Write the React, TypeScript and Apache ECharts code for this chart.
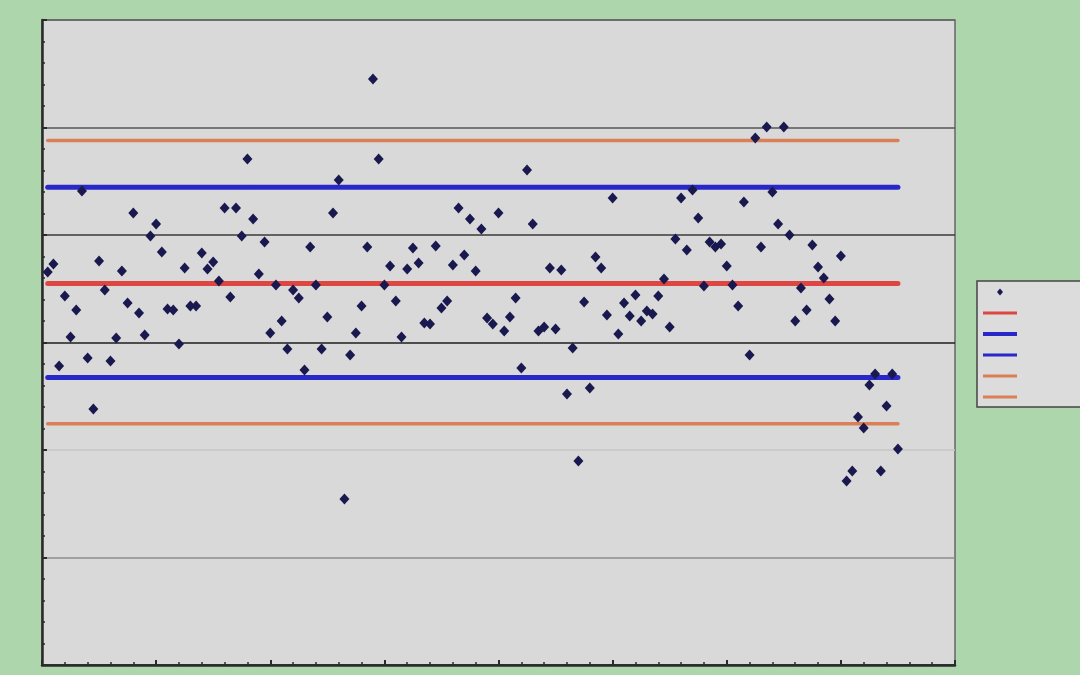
import React, { useEffect, useRef } from "react";
import * as echarts from "echarts";

// Observation values (index 1..150)
const observations: number[] = [
  36.56, 37.3, 27.81, 34.33, 30.51, 33.02, 44.09, 28.56, 23.81, 37.58,
  34.88, 28.28, 30.42, 36.65, 33.67, 42.05, 32.74, 30.7, 39.91, 41.02,
  38.42, 33.12, 33.02, 29.86, 36.93, 33.4, 33.4, 38.33, 36.84, 37.49,
  35.72, 42.51, 34.23, 42.51, 39.91, 47.07, 41.49, 36.37, 39.35, 30.88,
  35.35, 32.0, 29.4, 34.88, 34.14, 27.44, 38.88, 35.35, 29.4, 32.37,
  42.05, 45.12, 15.44, 28.84, 30.88, 33.4, 38.88, 54.51, 47.07, 35.35,
  37.12, 33.86, 30.51, 36.84, 38.79, 37.4, 31.81, 31.72, 38.98, 33.21,
  33.86, 37.21, 42.51, 38.14, 41.49, 36.65, 40.56, 32.28, 31.72, 42.05,
  31.07, 32.37, 34.14, 27.63, 46.05, 41.02, 31.07, 31.44, 36.93, 31.26,
  36.74, 25.21, 29.49, 18.98, 33.77, 25.77, 37.95, 36.93, 32.56, 43.44,
  30.79, 33.67, 32.47, 34.42, 32.0, 32.93, 32.65, 34.33, 35.91, 31.44,
  39.63, 43.44, 38.6, 44.19, 41.58, 35.26, 39.35, 38.88, 39.16, 37.12,
  35.35, 33.4, 43.07, 28.84, 49.02, 38.88, 50.05, 44.0, 41.02, 50.05,
  40.0, 32.0, 35.07, 33.02, 39.07, 37.02, 36.0, 34.05, 32.0, 38.05,
  17.12, 18.05, 23.07, 22.05, 26.05, 27.07, 18.05, 24.09, 27.07, 20.09,
];

// Control limits
const meanValue = 35.5;
const upper2 = 44.45;
const lower2 = 26.75;
const upper3 = 48.8;
const lower3 = 22.45;

const firstIndex = 1;
const lastIndex = 150;

const seriesNames = ["Data", "Mean", "UCL 2s", "LCL 2s", "UCL 3s", "LCL 3s"];

export default function App() {
  const ref = useRef<HTMLDivElement>(null);

  useEffect(() => {
    document.body.style.margin = "0";
    if (!ref.current) return;
    const chart = echarts.init(ref.current, undefined, { renderer: "svg" });

    const scatterData = observations.map((v, i) => [i + 1, v]);
    const hline = (v: number) => [
      [firstIndex, v],
      [lastIndex, v],
    ];

    const navy = "#19194f";
    const red = "#de4741";
    const blue = "#2828c8";
    const orange = "#db7f56";

    const lineSeries = (name: string, v: number, color: string, width: number) => ({
      name,
      type: "line",
      data: hline(v),
      symbol: "none",
      lineStyle: { color, width, cap: "round" },
      itemStyle: { color },
      z: 2,
    });

    // legend icons keep a 34x10 bounding box so every item has the same height
    const barIcon = (h: number) => {
      const t = (10 - h) / 2;
      return `path://M0,0 M34,10 M0,${t} L34,${t} L34,${t + h} L0,${t + h} Z`;
    };
    const diamondIcon = "path://M0,0 M34,10 M17,1.5 L20,5 L17,8.5 L14,5 Z";

    chart.setOption({
      animation: false,
      backgroundColor: "#aed6ac",
      grid: {
        left: 42,
        top: 20,
        right: 125,
        bottom: 10,
        show: true,
        backgroundColor: "#d9d9d9",
        borderColor: "#666",
        borderWidth: 1.5,
      },
      legend: {
        orient: "vertical",
        left: 977,
        top: 281,
        padding: [6, 150, 5, 6],
        itemWidth: 34,
        itemHeight: 10,
        itemGap: 11,
        symbolKeepAspect: true,
        backgroundColor: "#dcdcdc",
        borderColor: "#444",
        borderWidth: 1.5,
        borderRadius: 0,
        formatter: () => "",
        data: [
          { name: seriesNames[0], icon: diamondIcon, itemStyle: { color: navy } },
          { name: seriesNames[1], icon: barIcon(3), itemStyle: { color: red } },
          { name: seriesNames[2], icon: barIcon(4), itemStyle: { color: blue } },
          { name: seriesNames[3], icon: barIcon(3), itemStyle: { color: blue } },
          { name: seriesNames[4], icon: barIcon(3), itemStyle: { color: orange } },
          { name: seriesNames[5], icon: barIcon(3), itemStyle: { color: orange } },
        ],
      },
      xAxis: {
        type: "value",
        min: 0,
        max: 160,
        interval: 20,
        axisLine: { show: true, onZero: false, lineStyle: { color: "#2a2a2a", width: 2.5 } },
        axisTick: { show: true, inside: true, length: 5, lineStyle: { color: "#2a2a2a", width: 2 } },
        minorTick: { show: true, splitNumber: 5, length: 3, lineStyle: { color: "#2a2a2a", width: 1.5 } },
        axisLabel: { show: false },
        splitLine: { show: false },
      },
      yAxis: {
        type: "value",
        min: 0,
        max: 60,
        interval: 10,
        axisLine: { show: true, onZero: false, lineStyle: { color: "#2a2a2a", width: 2.5 } },
        axisTick: { show: true, inside: true, length: 5, lineStyle: { color: "#2a2a2a", width: 2 } },
        minorTick: { show: true, splitNumber: 5, length: 3, lineStyle: { color: "#2a2a2a", width: 1.5 } },
        axisLabel: { show: false },
        splitLine: {
          show: true,
          lineStyle: {
            color: ["#2a2a2a", "#8c8c8c", "#c6c6c6", "#1e1e1e", "#3a3a3a", "#555555", "#666666"],
            width: 1.5,
          },
        },
      },
      series: [
        {
          name: seriesNames[0],
          type: "scatter",
          data: scatterData,
          symbol: "diamond",
          symbolSize: [10, 11],
          itemStyle: { color: navy, opacity: 1 },
          z: 5,
        },
        lineSeries(seriesNames[1], meanValue, red, 5),
        lineSeries(seriesNames[2], upper2, blue, 5),
        lineSeries(seriesNames[3], lower2, blue, 5),
        lineSeries(seriesNames[4], upper3, orange, 3.5),
        lineSeries(seriesNames[5], lower3, orange, 3.5),
      ],
    });

    return () => chart.dispose();
  }, []);

  return (
    <div
      ref={ref}
      style={{ position: "fixed", left: 0, top: 0, width: 1080, height: 675 }}
    />
  );
}
